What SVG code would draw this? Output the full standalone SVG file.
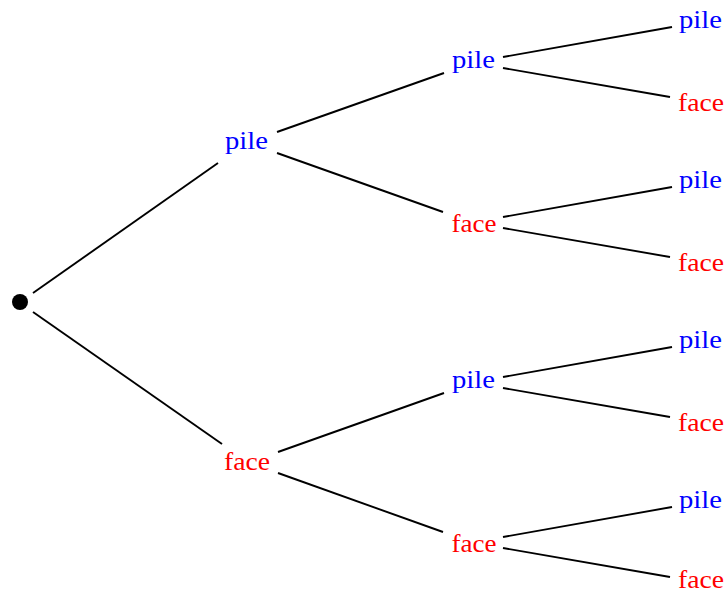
<svg xmlns="http://www.w3.org/2000/svg" width="725" height="594" viewBox="0 0 725 594">
  <style>
    .edge { stroke: #000; stroke-width: 1.9; fill: none; stroke-linecap: butt; }
    text { font-family: "Liberation Serif", "Times New Roman", serif; font-size: 25.5px; text-anchor: middle; }
    .pile { fill: #0000ff; }
    .face { fill: #ff0000; }
  </style>
  <rect width="725" height="594" fill="#fff"/>

  <!-- branches of the tree -->
  <g id="connectors">
    <line class="edge" x1="33" y1="293" x2="218" y2="163"/>
    <line class="edge" x1="33" y1="312" x2="222" y2="444"/>

    <line class="edge" x1="277" y1="132" x2="444" y2="73"/>
    <line class="edge" x1="277" y1="153" x2="443" y2="212"/>
    <line class="edge" x1="278" y1="452" x2="444" y2="393"/>
    <line class="edge" x1="278" y1="473" x2="443" y2="532"/>

    <line class="edge" x1="503" y1="57" x2="672" y2="27"/>
    <line class="edge" x1="503" y1="68" x2="670" y2="97"/>
    <line class="edge" x1="503" y1="217" x2="672" y2="187"/>
    <line class="edge" x1="503" y1="228" x2="670" y2="257"/>
    <line class="edge" x1="503" y1="377" x2="672" y2="347"/>
    <line class="edge" x1="503" y1="388" x2="670" y2="417"/>
    <line class="edge" x1="503" y1="537" x2="672" y2="507"/>
    <line class="edge" x1="503" y1="548" x2="670" y2="577"/>
  </g>

  <g id="root"><circle cx="20" cy="302" r="8" fill="#000"/></g>

  <g id="n1"><text class="pile" x="246.5" y="149" textLength="43" lengthAdjust="spacingAndGlyphs">pile</text></g>
  <g id="n2"><text class="face" x="247" y="470" textLength="46" lengthAdjust="spacingAndGlyphs">face</text></g>

  <g id="n11"><text class="pile" x="473.5" y="68" textLength="43" lengthAdjust="spacingAndGlyphs">pile</text></g>
  <g id="n12"><text class="face" x="474" y="232" textLength="45" lengthAdjust="spacingAndGlyphs">face</text></g>
  <g id="n21"><text class="pile" x="473.5" y="388" textLength="43" lengthAdjust="spacingAndGlyphs">pile</text></g>
  <g id="n22"><text class="face" x="474" y="552" textLength="45" lengthAdjust="spacingAndGlyphs">face</text></g>

  <g id="n111"><text class="pile" x="700.5" y="28" textLength="43" lengthAdjust="spacingAndGlyphs">pile</text></g>
  <g id="n112"><text class="face" x="701" y="111" textLength="46" lengthAdjust="spacingAndGlyphs">face</text></g>
  <g id="n121"><text class="pile" x="700.5" y="188" textLength="43" lengthAdjust="spacingAndGlyphs">pile</text></g>
  <g id="n122"><text class="face" x="701" y="271" textLength="46" lengthAdjust="spacingAndGlyphs">face</text></g>
  <g id="n211"><text class="pile" x="700.5" y="348" textLength="43" lengthAdjust="spacingAndGlyphs">pile</text></g>
  <g id="n212"><text class="face" x="701" y="431" textLength="46" lengthAdjust="spacingAndGlyphs">face</text></g>
  <g id="n221"><text class="pile" x="700.5" y="508" textLength="43" lengthAdjust="spacingAndGlyphs">pile</text></g>
  <g id="n222"><text class="face" x="701" y="588" textLength="46" lengthAdjust="spacingAndGlyphs">face</text></g>
</svg>
